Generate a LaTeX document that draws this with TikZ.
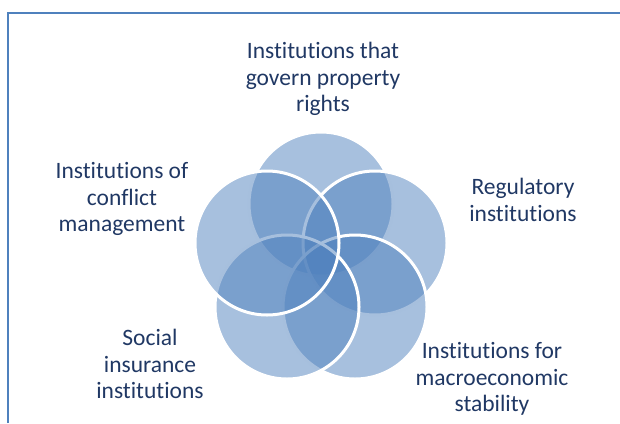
\documentclass[tikz,border=0pt]{standalone}
\usepackage{fontspec}
\setmainfont{Carlito}[Ligatures=NoCommon]

\definecolor{vennblue}{HTML}{4F81BD}
\definecolor{labelblue}{HTML}{203864}

\tikzset{
    venn/.style={circle, minimum size=144, inner sep=0pt,
        fill=vennblue, fill opacity=0.5, draw=white, line width=3pt},
    label text/.style={align=center, text=labelblue,
        font=\fontsize{23.5}{26.5}\selectfont}
}

\begin{document}
\begin{tikzpicture}[
    x=1pt,
    y=-1pt
]

\useasboundingbox (0,0) rectangle (620,423);

% Frame
\draw[vennblue, line width=2pt] (7.5,423) -- (7.5,12.5) -- (620,12.5);

% Circles
\foreach \x/\y/\name in {
    321/204/rights,
    375/243/regulatory,
    355/307/macro,
    287/307/social,
    267/243/conflict
} {
    \node[venn] (\name) at (\x,\y) {};
}

% Labels
\node[label text] (rightsText) at (323,79) {Institutions that\\govern property\\rights};
\node[label text] (regulatoryText) at (523,200) {Regulatory\\institutions};
\node[label text] (macroText) at (492,379) {Institutions for\\macroeconomic\\stability};
\node[label text] (socialText) at (150,364) {Social\\insurance\\institutions};
\node[label text] (conflictText) at (122,199) {Institutions of\\conflict\\management};

\end{tikzpicture}
\end{document}
